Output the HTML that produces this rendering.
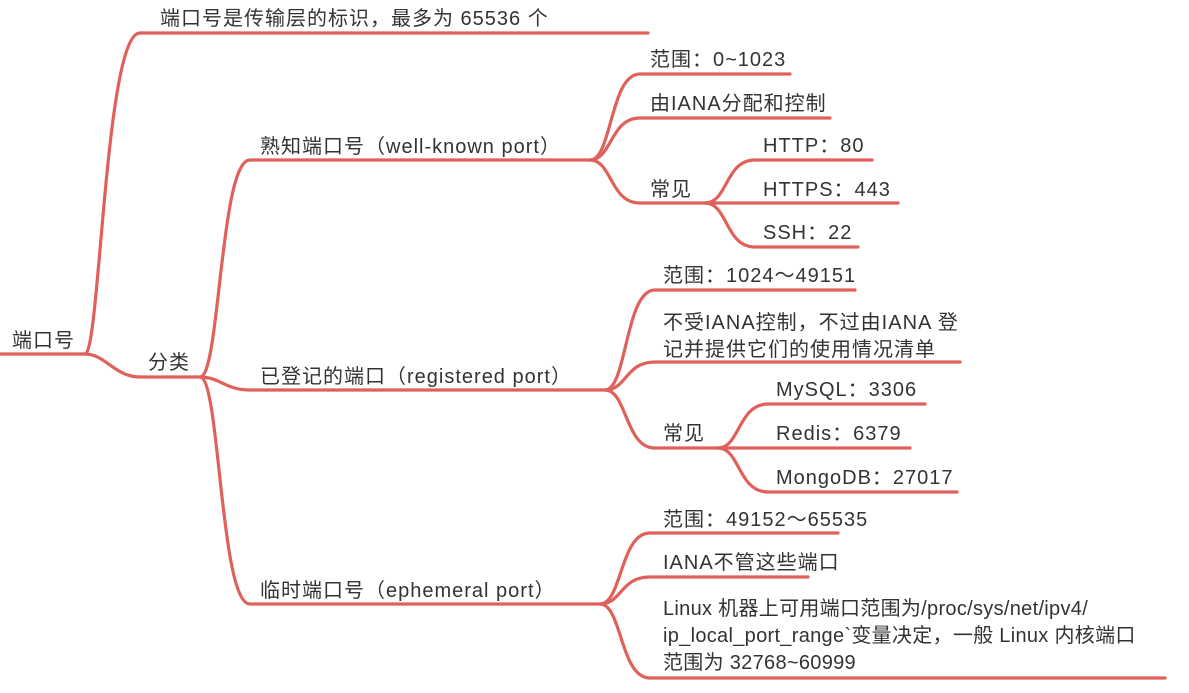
<!DOCTYPE html>
<html><head><meta charset="utf-8"><style>
body{margin:0;width:1189px;height:693px;background:#fff;position:relative;overflow:hidden;font-family:"Liberation Sans","Noto Sans CJK SC",sans-serif;color:#333}
.t{position:absolute;font-size:20px;letter-spacing:1px;line-height:22px;white-space:nowrap}
svg{position:absolute;left:0;top:0}
</style></head><body>
<svg width="1189" height="693" fill="none" stroke="#e0605a" stroke-width="3.2" stroke-linecap="round">
<path d="M0 354 H85"/>
<path d="M85 354 C100 354,105 33,140 33 H648"/>
<path d="M85 354 C105 354,115 377,140 377 H200"/>
<path d="M200 377 C220 377,220 160,250 160 H590"/>
<path d="M200 377 C220 377,225 390,250 390 H605"/>
<path d="M200 377 C220 377,220 604,250 604 H600"/>
<path d="M590 160 C612 160,610 74,640 74 H790"/>
<path d="M590 160 C612 160,610 118,640 118 H830"/>
<path d="M590 160 C612 160,610 203,640 203 H705"/>
<path d="M705 203 C728 203,725 160,755 160 H872"/>
<path d="M705 203 H898"/>
<path d="M705 203 C728 203,725 247,755 247 H858"/>
<path d="M605 390 C627 390,625 290,655 290 H855"/>
<path d="M605 390 C627 390,625 362,655 362 H960"/>
<path d="M605 390 C627 390,625 448,655 448 H718"/>
<path d="M718 448 C740 448,738 404,768 404 H925"/>
<path d="M718 448 H910"/>
<path d="M718 448 C740 448,738 492,768 492 H957"/>
<path d="M600 604 C622 604,620 533,650 533 H838"/>
<path d="M600 604 C622 604,620 577,650 577 H808"/>
<path d="M600 604 C622 604,620 678,650 678 H1165"/>
</svg>
<div class="t" style="left:12px;top:330px">端口号</div>
<div class="t" style="left:160px;top:8px">端口号是传输层的标识，最多为 65536 个</div>
<div class="t" style="left:148px;top:352px">分类</div>
<div class="t" style="left:260px;top:136px">熟知端口号（well-known port）</div>
<div class="t" style="left:260px;top:366px">已登记的端口（registered port）</div>
<div class="t" style="left:260px;top:580px">临时端口号（ephemeral port）</div>
<div class="t" style="left:650px;top:49px">范围：0~1023</div>
<div class="t" style="left:650px;top:93px">由IANA分配和控制</div>
<div class="t" style="left:650px;top:179px">常见</div>
<div class="t" style="left:763px;top:135px">HTTP：80</div>
<div class="t" style="left:763px;top:179px">HTTPS：443</div>
<div class="t" style="left:763px;top:222px">SSH：22</div>
<div class="t" style="left:663px;top:265px">范围：1024～49151</div>
<div class="t" style="left:663px;top:310px;line-height:27px">不受IANA控制，不过由IANA 登<br>记并提供它们的使用情况清单</div>
<div class="t" style="left:663px;top:423px">常见</div>
<div class="t" style="left:776px;top:379px">MySQL：3306</div>
<div class="t" style="left:776px;top:423px">Redis：6379</div>
<div class="t" style="left:776px;top:467px">MongoDB：27017</div>
<div class="t" style="left:663px;top:509px">范围：49152～65535</div>
<div class="t" style="left:663px;top:552px">IANA不管这些端口</div>
<div class="t" style="left:663px;top:596px;line-height:27px;letter-spacing:0.3px">Linux 机器上可用端口范围为/proc/sys/net/ipv4/<br>ip_local_port_range`变量决定，一般 Linux 内核端口<br>范围为 32768~60999</div>
</body></html>
